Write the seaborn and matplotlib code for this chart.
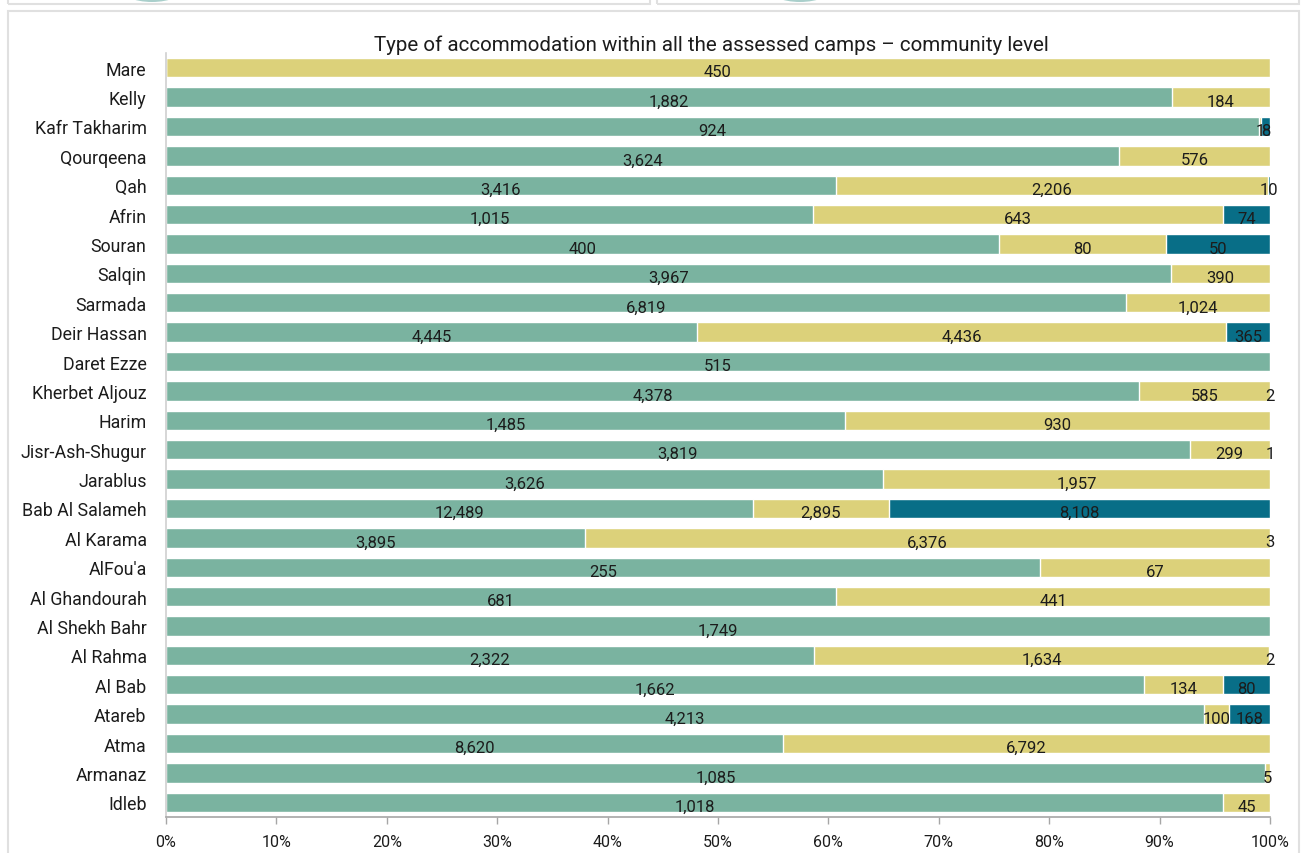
import numpy as np
import pandas as pd
import seaborn as sns
import matplotlib.pyplot as plt
from matplotlib.patches import Rectangle, Ellipse

# Communities, top to bottom
communities = [
    "Mare", "Kelly", "Kafr Takharim", "Qourqeena", "Qah", "Afrin", "Souran",
    "Salqin", "Sarmada", "Deir Hassan", "Daret Ezze", "Kherbet Aljouz", "Harim",
    "Jisr-Ash-Shugur", "Jarablus", "Bab Al Salameh", "Al Karama", "AlFou'a",
    "Al Ghandourah", "Al Shekh Bahr", "Al Rahma", "Al Bab", "Atareb", "Atma",
    "Armanaz", "Idleb",
]
# Households per accommodation type (three stacked series)
series_green = [0, 1882, 924, 3624, 3416, 1015, 400, 3967, 6819, 4445, 515, 4378,
                1485, 3819, 3626, 12489, 3895, 255, 681, 1749, 2322, 1662, 4213,
                8620, 1085, 1018]
series_yellow = [450, 184, 1, 576, 2206, 643, 80, 390, 1024, 4436, 0, 585, 930,
                 299, 1957, 2895, 6376, 67, 441, 0, 1634, 134, 100, 6792, 5, 45]
series_blue = [0, 0, 8, 0, 10, 74, 50, 0, 0, 365, 0, 2, 0, 1, 0, 8108, 3, 0, 0,
               0, 2, 80, 168, 0, 0, 0]
tick_labels = ["0%", "10%", "20%", "30%", "40%", "50%", "60%", "70%", "80%",
               "90%", "100%"]

GREEN = "#7ab3a0"
YELLOW = "#dcd17a"
BLUE = "#086e87"
TEXT = "#1c1c1c"

sns.set_theme(style="white")
plt.rcParams["font.family"] = ["Roboto", "DejaVu Sans"]

df = pd.DataFrame({"community": communities, "g": series_green,
                   "y": series_yellow, "b": series_blue})
total = df[["g", "y", "b"]].sum(axis=1)
df["gs"] = df["g"] / total
df["ys"] = df["y"] / total
df["bs"] = df["b"] / total
df["c1"] = df["gs"]
df["c2"] = df["gs"] + df["ys"]
df["c3"] = df["gs"] + df["ys"] + df["bs"]

fig = plt.figure(figsize=(13.03, 8.54), dpi=100)
ax = fig.add_axes([166 / 1303, 1 - 818 / 854, (1270 - 166) / 1303, (818 - 54) / 854])

# Stacked bars drawn as overlapping cumulative totals
for col, color in [("c3", BLUE), ("c2", YELLOW), ("c1", GREEN)]:
    sns.barplot(data=df, x=col, y="community", color=color, saturation=1,
                width=0.66, orient="h", ax=ax, order=communities)

# Value labels centred on each segment
for i, row in df.iterrows():
    left = 0.0
    for val, share in [(row["g"], row["gs"]), (row["y"], row["ys"]), (row["b"], row["bs"])]:
        if val > 0:
            ax.text(left + share / 2, i + 0.14, f"{int(val):,}", ha="center",
                    va="center", fontsize=12, color=TEXT)
        left += share

ax.set_xlim(0, 1)
ax.set_ylim(len(communities) - 0.5, -0.5)
ax.set_xticks(np.linspace(0, 1, 11))
ax.set_xticklabels(tick_labels, fontsize=11.5, color=TEXT)
ax.tick_params(axis="x", length=5, width=1, color="#a6a6a6", pad=7, direction="out",
               bottom=True)
ax.tick_params(axis="y", length=0, pad=14, labelsize=12.8, labelcolor=TEXT)
ax.set_xlabel("")
ax.set_ylabel("")
for side in ["top", "right"]:
    ax.spines[side].set_visible(False)
ax.spines["left"].set_color("#d0d0d0")
ax.spines["bottom"].set_color("#a6a6a6")
ax.spines["left"].set_linewidth(1.2)
ax.spines["bottom"].set_linewidth(1.2)

fig.text(0.5 * (370 + 1052) / 1303, 1 - 45 / 854,
         "Type of accommodation within all the assessed camps \u2013 community level",
         ha="center", va="center", fontsize=14.8, color=TEXT)

# Surrounding panel frames
fig.patches.append(Rectangle((8 / 1303, -0.1), (1299 - 8) / 1303, 1.1 - 12 / 854,
                             transform=fig.transFigure, fill=False,
                             edgecolor="#e0e0e0", lw=1.5, zorder=0))
fig.patches.append(Rectangle((8 / 1303, 1 - 5 / 854), (650 - 8) / 1303, 0.1,
                             transform=fig.transFigure, fill=False,
                             edgecolor="#e0e0e0", lw=1.5, zorder=0))
fig.patches.append(Rectangle((657 / 1303, 1 - 5 / 854), (1299 - 657) / 1303, 0.1,
                             transform=fig.transFigure, fill=False,
                             edgecolor="#e0e0e0", lw=1.5, zorder=0))
for cx in (152, 800):
    fig.patches.append(Ellipse((cx / 1303, 1 + 12 / 854), 66 / 1303, 30 / 854,
                               transform=fig.transFigure, facecolor="#a9cfcb",
                               edgecolor="none", zorder=0))

fig.savefig("out.png", dpi=100)
